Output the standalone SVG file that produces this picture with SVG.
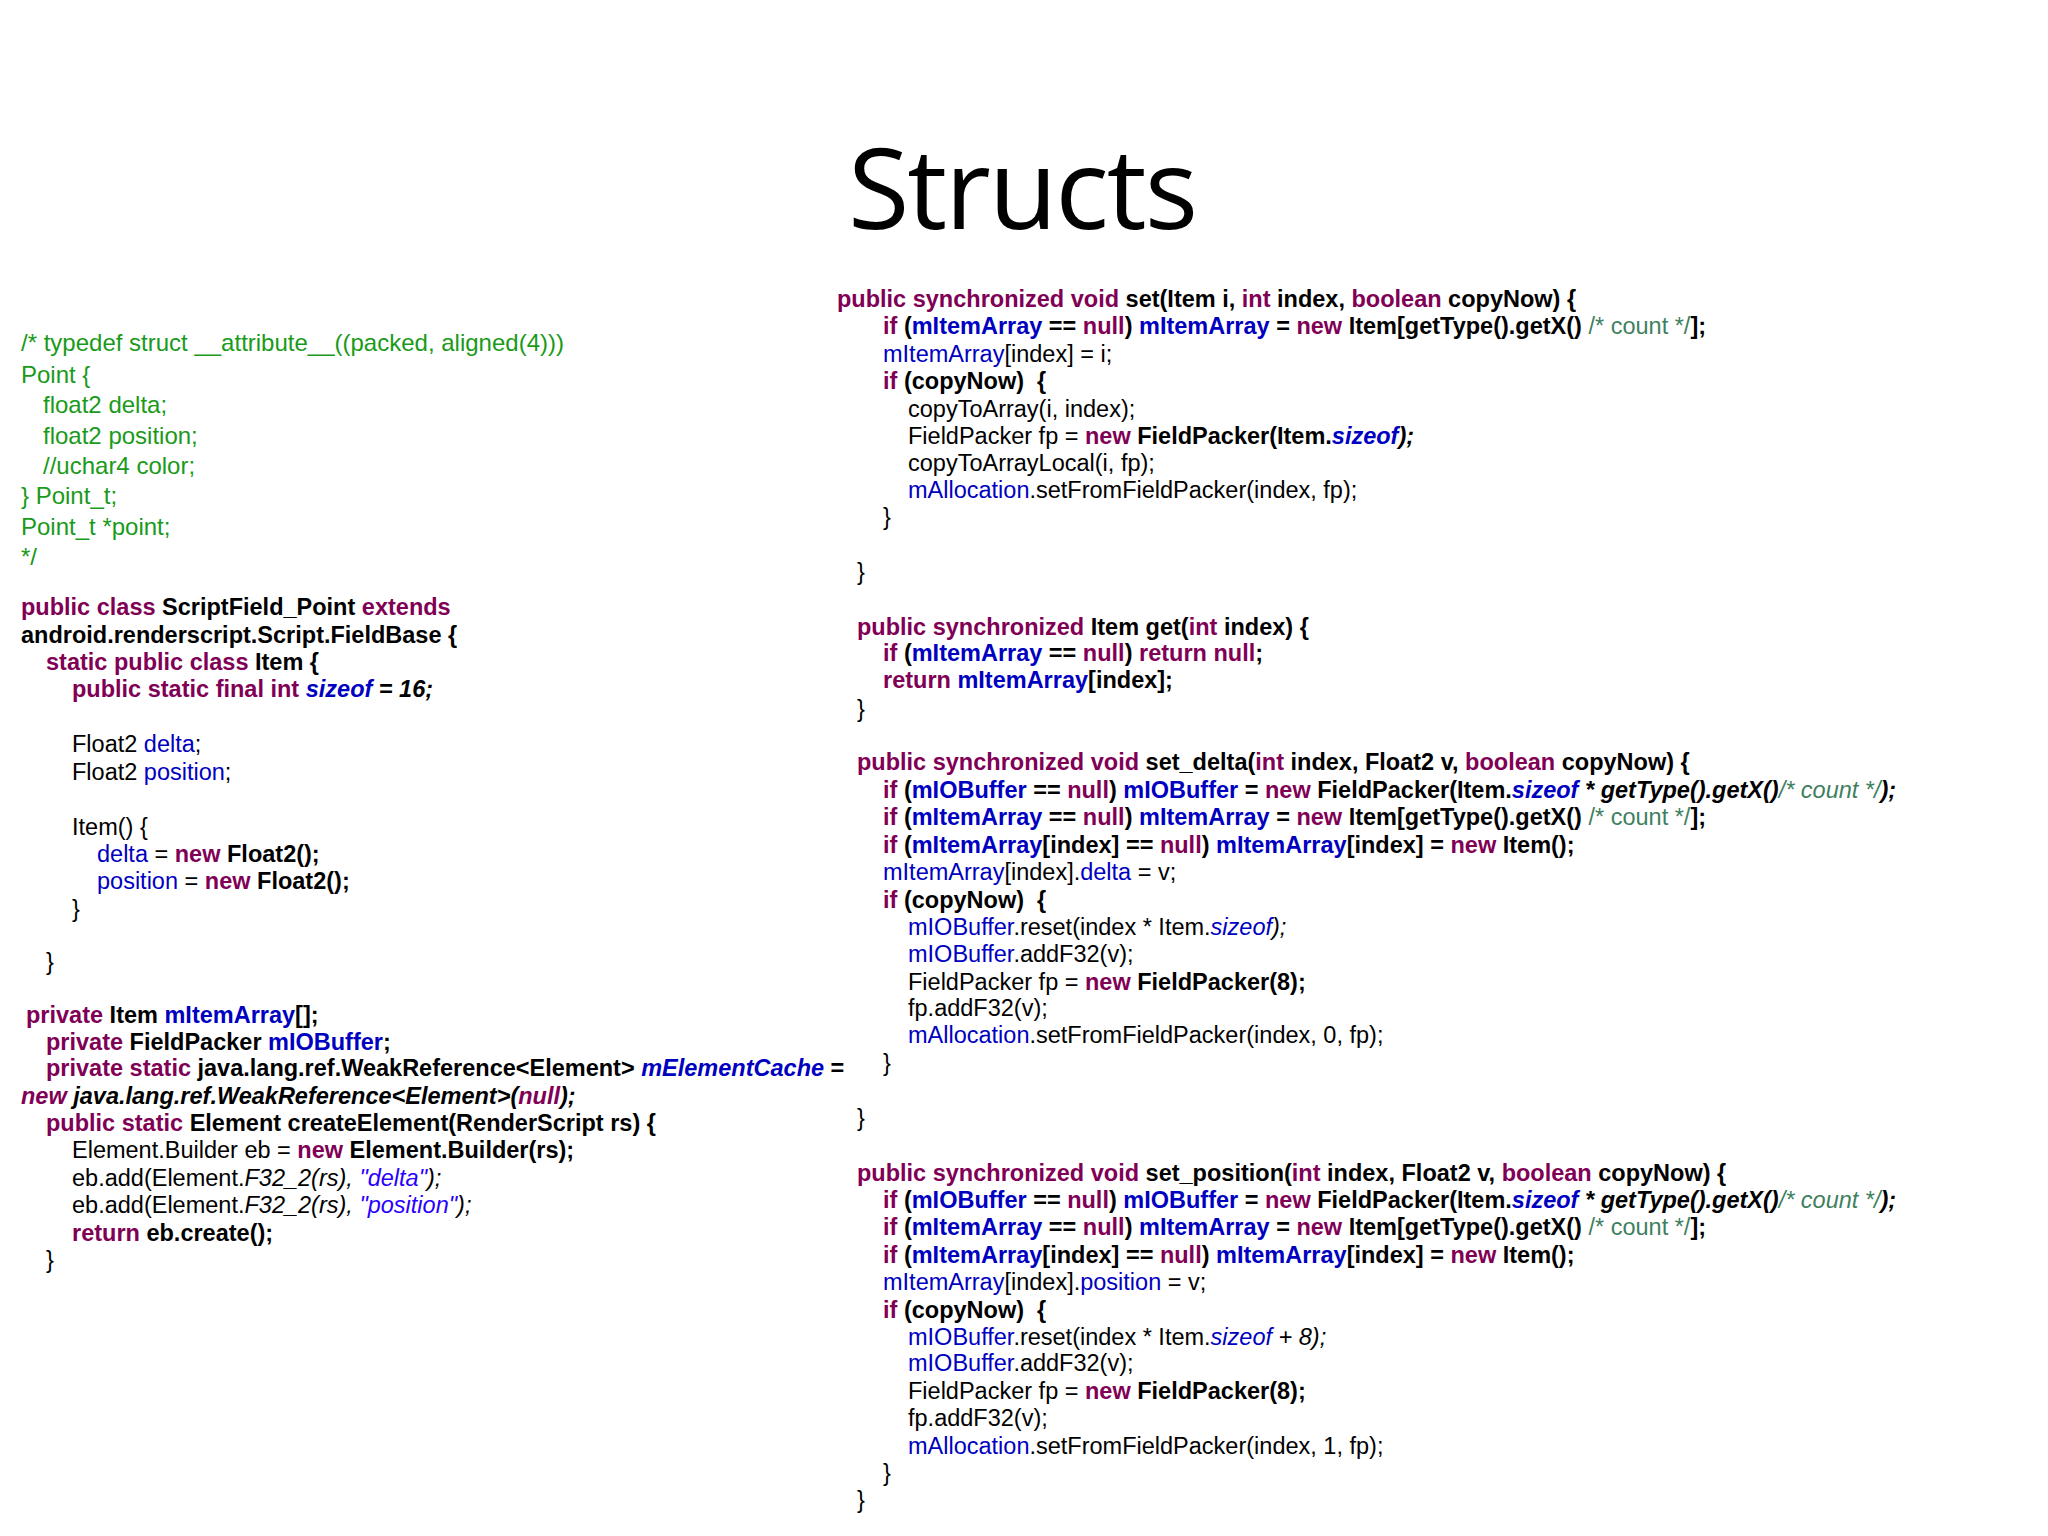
<svg xmlns="http://www.w3.org/2000/svg" width="2048" height="1536" viewBox="0 0 2048 1536">
<style>
text{font-family:"Liberation Sans Narrow","Liberation Sans",Arial,sans-serif;font-size:23.5px;fill:#000;white-space:pre}
.g{fill:#1a9a1a;font-size:24px}
.k{fill:#7F0055;font-weight:bold}
.b{font-weight:bold}
.f{fill:#0000C0}
.fb{fill:#0000C0;font-weight:bold}
.c{fill:#3F7F5F}
.s{fill:#2A00FF}
.i{font-style:italic}
.title{font-family:"Open Sans","Liberation Sans",sans-serif;font-size:112px}
</style>
<rect width="2048" height="1536" fill="#fff"/>
<text class="title" x="1023" y="229" text-anchor="middle" textLength="350">Structs</text>
<g id="ccomment">
<text class="g" x="21" y="351">/* typedef struct __attribute__((packed, aligned(4)))</text>
<text class="g" x="21" y="383">Point {</text>
<text class="g" x="43" y="413">float2 delta;</text>
<text class="g" x="43" y="444">float2 position;</text>
<text class="g" x="43" y="474">//uchar4 color;</text>
<text class="g" x="21" y="504">} Point_t;</text>
<text class="g" x="21" y="535">Point_t *point;</text>
<text class="g" x="21" y="565">*/</text>
</g>
<g id="leftcode">
<text x="21" y="615"><tspan class="k">public class</tspan><tspan class="b"> ScriptField_Point </tspan><tspan class="k">extends</tspan></text>
<text x="21" y="643" class="b">android.renderscript.Script.FieldBase {</text>
<text x="46" y="670"><tspan class="k">static public class</tspan><tspan class="b"> Item {</tspan></text>
<text x="72" y="697"><tspan class="k">public static final int </tspan><tspan class="fb i">sizeof</tspan><tspan class="b i"> = 16;</tspan></text>
<text x="72" y="752">Float2 <tspan class="f">delta</tspan>;</text>
<text x="72" y="780">Float2 <tspan class="f">position</tspan>;</text>
<text x="72" y="835">Item() {</text>
<text x="97" y="862"><tspan class="f">delta</tspan> = <tspan class="k">new</tspan><tspan class="b"> Float2();</tspan></text>
<text x="97" y="889"><tspan class="f">position</tspan> = <tspan class="k">new</tspan><tspan class="b"> Float2();</tspan></text>
<text x="72" y="917">}</text>
<text x="46" y="970">}</text>
<text x="26" y="1023"><tspan class="k">private</tspan><tspan class="b"> Item </tspan><tspan class="fb">mItemArray</tspan><tspan class="b">[];</tspan></text>
<text x="46" y="1050"><tspan class="k">private</tspan><tspan class="b"> FieldPacker </tspan><tspan class="fb">mIOBuffer</tspan><tspan class="b">;</tspan></text>
<text x="46" y="1076"><tspan class="k">private static</tspan><tspan class="b"> java.lang.ref.WeakReference&lt;Element&gt; </tspan><tspan class="fb i">mElementCache</tspan><tspan class="b"> =</tspan></text>
<text x="21" y="1104"><tspan class="k i">new</tspan><tspan class="b i"> java.lang.ref.WeakReference&lt;Element&gt;(</tspan><tspan class="k i">null</tspan><tspan class="b i">);</tspan></text>
<text x="46" y="1131"><tspan class="k">public static</tspan><tspan class="b"> Element createElement(RenderScript rs) {</tspan></text>
<text x="72" y="1158">Element.Builder eb = <tspan class="k">new</tspan><tspan class="b"> Element.Builder(rs);</tspan></text>
<text x="72" y="1186">eb.add(Element.<tspan class="i">F32_2(rs), </tspan><tspan class="s i">"delta"</tspan><tspan class="i">);</tspan></text>
<text x="72" y="1213">eb.add(Element.<tspan class="i">F32_2(rs), </tspan><tspan class="s i">"position"</tspan><tspan class="i">);</tspan></text>
<text x="72" y="1241"><tspan class="k">return</tspan><tspan class="b"> eb.create();</tspan></text>
<text x="46" y="1268">}</text>
</g>
<g id="setmethod">
<text x="837" y="307"><tspan class="k">public synchronized void</tspan><tspan class="b"> set(Item i, </tspan><tspan class="k">int</tspan><tspan class="b"> index, </tspan><tspan class="k">boolean</tspan><tspan class="b"> copyNow) {</tspan></text>
<text x="883" y="334"><tspan class="k">if</tspan><tspan class="b"> (</tspan><tspan class="fb">mItemArray</tspan><tspan class="b"> == </tspan><tspan class="k">null</tspan><tspan class="b">) </tspan><tspan class="fb">mItemArray</tspan><tspan class="b"> = </tspan><tspan class="k">new</tspan><tspan class="b"> Item[getType().getX() </tspan><tspan class="c">/* count */</tspan><tspan class="b">];</tspan></text>
<text x="883" y="362"><tspan class="f">mItemArray</tspan>[index] = i;</text>
<text x="883" y="389"><tspan class="k">if</tspan><tspan class="b"> (copyNow)  {</tspan></text>
<text x="908" y="417">copyToArray(i, index);</text>
<text x="908" y="444">FieldPacker fp = <tspan class="k">new</tspan><tspan class="b"> FieldPacker(Item.</tspan><tspan class="fb i">sizeof</tspan><tspan class="b i">);</tspan></text>
<text x="908" y="471">copyToArrayLocal(i, fp);</text>
<text x="908" y="498"><tspan class="f">mAllocation</tspan>.setFromFieldPacker(index, fp);</text>
<text x="883" y="525">}</text>
<text x="857" y="580">}</text>
</g>
<g id="getmethod">
<text x="857" y="635"><tspan class="k">public synchronized</tspan><tspan class="b"> Item get(</tspan><tspan class="k">int</tspan><tspan class="b"> index) {</tspan></text>
<text x="883" y="661"><tspan class="k">if</tspan><tspan class="b"> (</tspan><tspan class="fb">mItemArray</tspan><tspan class="b"> == </tspan><tspan class="k">null</tspan><tspan class="b">) </tspan><tspan class="k">return null</tspan><tspan class="b">;</tspan></text>
<text x="883" y="688"><tspan class="k">return</tspan><tspan class="b"> </tspan><tspan class="fb">mItemArray</tspan><tspan class="b">[index];</tspan></text>
<text x="857" y="717">}</text>
</g>
<g id="setdelta">
<text x="857" y="770"><tspan class="k">public synchronized void</tspan><tspan class="b"> set_delta(</tspan><tspan class="k">int</tspan><tspan class="b"> index, Float2 v, </tspan><tspan class="k">boolean</tspan><tspan class="b"> copyNow) {</tspan></text>
<text x="883" y="798"><tspan class="k">if</tspan><tspan class="b"> (</tspan><tspan class="fb">mIOBuffer</tspan><tspan class="b"> == </tspan><tspan class="k">null</tspan><tspan class="b">) </tspan><tspan class="fb">mIOBuffer</tspan><tspan class="b"> = </tspan><tspan class="k">new</tspan><tspan class="b"> FieldPacker(Item.</tspan><tspan class="fb i">sizeof</tspan><tspan class="b i"> * getType().getX()</tspan><tspan class="c i">/* count */</tspan><tspan class="b i">);</tspan></text>
<text x="883" y="825"><tspan class="k">if</tspan><tspan class="b"> (</tspan><tspan class="fb">mItemArray</tspan><tspan class="b"> == </tspan><tspan class="k">null</tspan><tspan class="b">) </tspan><tspan class="fb">mItemArray</tspan><tspan class="b"> = </tspan><tspan class="k">new</tspan><tspan class="b"> Item[getType().getX() </tspan><tspan class="c">/* count */</tspan><tspan class="b">];</tspan></text>
<text x="883" y="853"><tspan class="k">if</tspan><tspan class="b"> (</tspan><tspan class="fb">mItemArray</tspan><tspan class="b">[index] == </tspan><tspan class="k">null</tspan><tspan class="b">) </tspan><tspan class="fb">mItemArray</tspan><tspan class="b">[index] = </tspan><tspan class="k">new</tspan><tspan class="b"> Item();</tspan></text>
<text x="883" y="880"><tspan class="f">mItemArray</tspan>[index].<tspan class="f">delta</tspan> = v;</text>
<text x="883" y="908"><tspan class="k">if</tspan><tspan class="b"> (copyNow)  {</tspan></text>
<text x="908" y="935"><tspan class="f">mIOBuffer</tspan>.reset(index * Item.<tspan class="f i">sizeof</tspan><tspan class="i">);</tspan></text>
<text x="908" y="962"><tspan class="f">mIOBuffer</tspan>.addF32(v);</text>
<text x="908" y="990">FieldPacker fp = <tspan class="k">new</tspan><tspan class="b"> FieldPacker(8);</tspan></text>
<text x="908" y="1016">fp.addF32(v);</text>
<text x="908" y="1043"><tspan class="f">mAllocation</tspan>.setFromFieldPacker(index, 0, fp);</text>
<text x="883" y="1071">}</text>
<text x="857" y="1126">}</text>
</g>
<g id="setposition">
<text x="857" y="1181"><tspan class="k">public synchronized void</tspan><tspan class="b"> set_position(</tspan><tspan class="k">int</tspan><tspan class="b"> index, Float2 v, </tspan><tspan class="k">boolean</tspan><tspan class="b"> copyNow) {</tspan></text>
<text x="883" y="1208"><tspan class="k">if</tspan><tspan class="b"> (</tspan><tspan class="fb">mIOBuffer</tspan><tspan class="b"> == </tspan><tspan class="k">null</tspan><tspan class="b">) </tspan><tspan class="fb">mIOBuffer</tspan><tspan class="b"> = </tspan><tspan class="k">new</tspan><tspan class="b"> FieldPacker(Item.</tspan><tspan class="fb i">sizeof</tspan><tspan class="b i"> * getType().getX()</tspan><tspan class="c i">/* count */</tspan><tspan class="b i">);</tspan></text>
<text x="883" y="1235"><tspan class="k">if</tspan><tspan class="b"> (</tspan><tspan class="fb">mItemArray</tspan><tspan class="b"> == </tspan><tspan class="k">null</tspan><tspan class="b">) </tspan><tspan class="fb">mItemArray</tspan><tspan class="b"> = </tspan><tspan class="k">new</tspan><tspan class="b"> Item[getType().getX() </tspan><tspan class="c">/* count */</tspan><tspan class="b">];</tspan></text>
<text x="883" y="1263"><tspan class="k">if</tspan><tspan class="b"> (</tspan><tspan class="fb">mItemArray</tspan><tspan class="b">[index] == </tspan><tspan class="k">null</tspan><tspan class="b">) </tspan><tspan class="fb">mItemArray</tspan><tspan class="b">[index] = </tspan><tspan class="k">new</tspan><tspan class="b"> Item();</tspan></text>
<text x="883" y="1290"><tspan class="f">mItemArray</tspan>[index].<tspan class="f">position</tspan> = v;</text>
<text x="883" y="1318"><tspan class="k">if</tspan><tspan class="b"> (copyNow)  {</tspan></text>
<text x="908" y="1345"><tspan class="f">mIOBuffer</tspan>.reset(index * Item.<tspan class="f i">sizeof</tspan><tspan class="i"> + 8);</tspan></text>
<text x="908" y="1371"><tspan class="f">mIOBuffer</tspan>.addF32(v);</text>
<text x="908" y="1399">FieldPacker fp = <tspan class="k">new</tspan><tspan class="b"> FieldPacker(8);</tspan></text>
<text x="908" y="1426">fp.addF32(v);</text>
<text x="908" y="1454"><tspan class="f">mAllocation</tspan>.setFromFieldPacker(index, 1, fp);</text>
<text x="883" y="1481">}</text>
<text x="857" y="1508">}</text>
</g>
</svg>
